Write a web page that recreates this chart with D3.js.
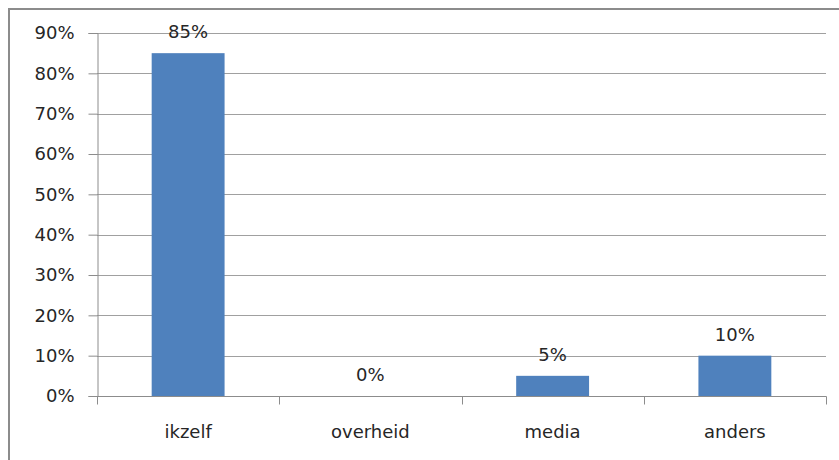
<!DOCTYPE html>
<html>
<head>
<meta charset="utf-8">
<script src="https://cdn.jsdelivr.net/npm/d3@7"></script>
<style>
  html, body { margin: 0; padding: 0; background: #fff; }
  svg { display: block; }
  text { font-family: "DejaVu Sans", Verdana, sans-serif; fill: #262626; }
</style>
</head>
<body>
<svg id="chart" width="839" height="460"></svg>
<script>
// Wie is verantwoordelijk? Antwoorden in procenten
const categories = ["ikzelf", "overheid", "media", "anders"];
const values = [85, 0, 5, 10];
const yTicks = [0, 10, 20, 30, 40, 50, 60, 70, 80, 90];

const svg = d3.select("#chart");
const W = 839, H = 460;
const FONT = 18;

// outer chart frame
svg.append("rect")
  .attr("x", 9).attr("y", 9)
  .attr("width", W + 10).attr("height", H + 10)
  .attr("fill", "none").attr("stroke", "#8c8c8c").attr("stroke-width", 2);

const plotLeft = 97, plotRight = 826, plotTop = 33, plotBottom = 396;

const x = d3.scaleBand().domain(categories).range([plotLeft, plotRight]).paddingInner(0).paddingOuter(0);
const y = d3.scaleLinear().domain([0, 90]).range([plotBottom, plotTop]);

// horizontal gridlines
svg.append("g")
  .selectAll("line")
  .data(yTicks.filter(t => t > 0))
  .join("line")
  .attr("x1", plotLeft).attr("x2", plotRight)
  .attr("y1", d => Math.round(y(d)) + 0.5).attr("y2", d => Math.round(y(d)) + 0.5)
  .attr("stroke", "#a0a0a0").attr("stroke-width", 1);

// y axis
const yAxis = svg.append("g")
  .attr("transform", `translate(${plotLeft + 0.5},0)`)
  .call(d3.axisLeft(y).tickValues(yTicks).tickSize(9).tickPadding(14).tickFormat(d => d + "%"));
yAxis.select(".domain").attr("stroke", "#8c8c8c");
yAxis.selectAll(".tick line").attr("stroke", "#8c8c8c");
yAxis.selectAll(".tick text").attr("font-size", FONT).attr("fill", "#262626")
  .attr("font-family", '"DejaVu Sans", Verdana, sans-serif');

// bars
const barW = x.bandwidth() * 0.4;
svg.append("g")
  .selectAll("rect")
  .data(categories.map((c, i) => ({ c, v: values[i] })))
  .join("rect")
  .attr("x", d => x(d.c) + (x.bandwidth() - barW) / 2)
  .attr("y", d => y(d.v))
  .attr("width", barW)
  .attr("height", d => plotBottom - y(d.v))
  .attr("fill", "#4f81bd");

// x axis with category separators
const xg = svg.append("g").attr("transform", `translate(0,${plotBottom + 0.5})`);
xg.append("line").attr("x1", plotLeft).attr("x2", plotRight + 0.5).attr("stroke", "#8c8c8c");
const seps = categories.map(c => x(c)).concat([plotRight]);
xg.selectAll("line.sep")
  .data(seps)
  .join("line")
  .attr("class", "sep")
  .attr("x1", d => Math.round(d) + 0.5).attr("x2", d => Math.round(d) + 0.5)
  .attr("y1", 0).attr("y2", 8)
  .attr("stroke", "#8c8c8c");
xg.selectAll("text")
  .data(categories)
  .join("text")
  .attr("x", d => x(d) + x.bandwidth() / 2)
  .attr("y", 41)
  .attr("text-anchor", "middle")
  .attr("font-size", FONT)
  .text(d => d);

// value labels above bars
svg.append("g")
  .selectAll("text")
  .data(categories.map((c, i) => ({ c, v: values[i] })))
  .join("text")
  .attr("x", d => x(d.c) + x.bandwidth() / 2)
  .attr("y", d => y(d.v) - 15)
  .attr("text-anchor", "middle")
  .attr("font-size", FONT)
  .text(d => d.v + "%");
</script>
</body>
</html>
